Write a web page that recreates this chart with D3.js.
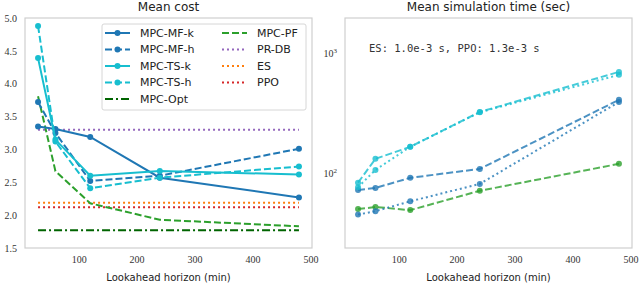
<!DOCTYPE html>
<html>
<head>
<meta charset="utf-8">
<script src="https://cdn.jsdelivr.net/npm/d3@7/dist/d3.min.js"></script>
<style>
  body { margin: 0; background: #fff; }
  .tick text { font-family: "Liberation Serif", serif; font-size: 10px; fill: #333; }
  .title { font-family: "DejaVu Sans", sans-serif; font-size: 12px; fill: #222; }
  .xlabel { font-family: "DejaVu Sans", sans-serif; font-size: 10px; fill: #222; }
  .legend text { font-family: "DejaVu Sans", sans-serif; font-size: 11px; fill: #222; }
</style>
</head>
<body>
<div id="chart"></div>
<script>
// lookahead horizon (min)
const horizons = [30, 60, 120, 240, 480];
const xTicks = [100, 200, 300, 400, 500];

// mean cost
const costMFk = [3.35, 3.31, 3.19, 2.57, 2.27];
const costMFh = [3.72, 3.25, 2.52, 2.60, 3.01];
const costTSk = [4.39, 3.15, 2.60, 2.67, 2.62];
const costTSh = [4.88, 3.12, 2.41, 2.57, 2.74];
const costPF  = [3.81, 2.67, 2.18, 1.93, 1.83];
const costOpt = 1.77;
const costPRDB = 3.30;
const costES = 2.19;
const costPPO = 2.12;
const costTicks = [1.5, 2.0, 2.5, 3.0, 3.5, 4.0, 4.5, 5.0];

// mean simulation time (sec)
const timeMFk = [45, 48, 58, 81, 390];
const timeMFh = [72, 75, 91, 108, 406];
const timeTSk = [76, 106, 165, 320, 656];
const timeTSh = [83, 131, 165, 322, 694];
const timePF  = [50, 52, 49, 71, 119];
const timeTicks = [100, 1000];
const timeNote = "ES: 1.0e-3 s, PPO: 1.3e-3 s";

const BLUE = "#1f77b4", CYAN = "#17becf", GREEN = "#2ca02c",
      DGREEN = "#006400", PURPLE = "#9467bd", ORANGE = "#ff7f0e", RED = "#d62728";
const DASH = "7,3", DOT = "2,3", DASHDOT = "8,3,2,3";

const svg = d3.select("#chart").append("svg")
    .attr("width", 640)
    .attr("height", 284);

// common x scale settings (same domain for both panels)
const xDomain = [7.5, 502.5];
const plotTop = 18, plotBottom = 248;

function panel(x0, x1, title) {
    const g = svg.append("g");
    const x = d3.scaleLinear().domain(xDomain).range([x0, x1]);

    g.append("rect")
        .attr("x", x0).attr("y", plotTop)
        .attr("width", x1 - x0).attr("height", plotBottom - plotTop)
        .attr("fill", "none").attr("stroke", "#cfcfcf").attr("stroke-width", 1.2);

    g.append("g")
        .attr("transform", `translate(0,${plotBottom})`)
        .call(d3.axisBottom(x).tickValues(xTicks).tickSize(0).tickPadding(8))
        .call(a => a.select(".domain").remove());

    g.append("text").attr("class", "title")
        .attr("x", (x0 + x1) / 2).attr("y", 11)
        .attr("text-anchor", "middle").text(title);

    g.append("text").attr("class", "xlabel")
        .attr("x", (x0 + x1) / 2).attr("y", 281)
        .attr("text-anchor", "middle").text("Lookahead horizon (min)");
    return { g, x };
}

function drawSeries(g, x, y, values, color, dash, markers, opacity) {
    const pts = horizons.map((h, i) => [h, values[i]]);
    g.append("path")
        .datum(pts)
        .attr("fill", "none")
        .attr("stroke", color)
        .attr("stroke-width", 2)
        .attr("stroke-dasharray", dash)
        .attr("opacity", opacity)
        .attr("d", d3.line().x(d => x(d[0])).y(d => y(d[1])));
    if (markers) {
        g.append("g").selectAll("circle")
            .data(pts)
            .enter().append("circle")
            .attr("cx", d => x(d[0]))
            .attr("cy", d => y(d[1]))
            .attr("r", 3)
            .attr("fill", color)
            .attr("opacity", opacity);
    }
}

function drawHLine(g, x, y, value, color, dash) {
    g.append("line")
        .attr("x1", x(horizons[0])).attr("x2", x(horizons[horizons.length - 1]))
        .attr("y1", y(value)).attr("y2", y(value))
        .attr("stroke", color).attr("stroke-width", 2)
        .attr("stroke-dasharray", dash);
}

// ---- left panel: mean cost ----
const yCost = d3.scaleLinear().domain([1.5, 5.0]).range([plotBottom, plotTop]);
const left = panel(25, 312, "Mean cost");

left.g.append("g")
    .attr("transform", "translate(25,0)")
    .call(d3.axisLeft(yCost).tickValues(costTicks).tickFormat(d3.format(".1f")).tickSize(0).tickPadding(8))
    .call(a => a.select(".domain").remove());

drawHLine(left.g, left.x, yCost, costPRDB, PURPLE, DOT);
drawHLine(left.g, left.x, yCost, costES, ORANGE, DOT);
drawHLine(left.g, left.x, yCost, costPPO, RED, DOT);
drawHLine(left.g, left.x, yCost, costOpt, DGREEN, DASHDOT);
drawSeries(left.g, left.x, yCost, costPF, GREEN, DASH, false, 1);
drawSeries(left.g, left.x, yCost, costMFk, BLUE, null, true, 1);
drawSeries(left.g, left.x, yCost, costMFh, BLUE, DASH, true, 1);
drawSeries(left.g, left.x, yCost, costTSk, CYAN, null, true, 1);
drawSeries(left.g, left.x, yCost, costTSh, CYAN, DASH, true, 1);

// legend
const legendItems = [
    { name: "MPC-MF-k", color: BLUE, dash: null, marker: true, col: 0 },
    { name: "MPC-MF-h", color: BLUE, dash: DASH, marker: true, col: 0 },
    { name: "MPC-TS-k", color: CYAN, dash: null, marker: true, col: 0 },
    { name: "MPC-TS-h", color: CYAN, dash: DASH, marker: true, col: 0 },
    { name: "MPC-Opt", color: DGREEN, dash: DASHDOT, marker: false, col: 0 },
    { name: "MPC-PF", color: GREEN, dash: DASH, marker: false, col: 1 },
    { name: "PR-DB", color: PURPLE, dash: DOT, marker: false, col: 1 },
    { name: "ES", color: ORANGE, dash: DOT, marker: false, col: 1 },
    { name: "PPO", color: RED, dash: DOT, marker: false, col: 1 }
];
const legend = svg.append("g").attr("class", "legend");
legend.append("rect")
    .attr("x", 102).attr("y", 24).attr("width", 204).attr("height", 86)
    .attr("rx", 2)
    .attr("fill", "#fff").attr("stroke", "#d6d6d6");
const colX = [105, 222];
legendItems.forEach((d, i) => {
    const row = d.col === 0 ? i : i - 5;
    const ly = 33 + row * 16.5;
    const lx = colX[d.col];
    legend.append("line")
        .attr("x1", lx).attr("x2", lx + 25)
        .attr("y1", ly).attr("y2", ly)
        .attr("stroke", d.color).attr("stroke-width", 2)
        .attr("stroke-dasharray", d.dash);
    if (d.marker) {
        legend.append("circle")
            .attr("cx", lx + 12.5).attr("cy", ly).attr("r", 3)
            .attr("fill", d.color);
    }
    legend.append("text")
        .attr("x", lx + 35).attr("y", ly)
        .attr("dy", "0.35em")
        .text(d.name);
});

// ---- right panel: mean simulation time (log) ----
const yTime = d3.scaleLog().domain([23.7, 1950]).range([plotBottom, plotTop]);
const right = panel(345, 632, "Mean simulation time (sec)");

right.g.append("g")
    .attr("transform", "translate(345,0)")
    .call(d3.axisLeft(yTime).tickValues(timeTicks).tickSize(0).tickPadding(8).tickFormat(""))
    .call(a => a.select(".domain").remove())
    .selectAll(".tick text")
    .each(function (d) {
        const t = d3.select(this);
        t.append("tspan").text("10");
        t.append("tspan").attr("dy", "-0.45em").attr("font-size", "7px")
            .text(Math.round(Math.log10(d)));
    });

drawSeries(right.g, right.x, yTime, timePF, GREEN, DASH, true, 0.8);
drawSeries(right.g, right.x, yTime, timeMFk, BLUE, DOT, true, 0.8);
drawSeries(right.g, right.x, yTime, timeMFh, BLUE, DASH, true, 0.8);
drawSeries(right.g, right.x, yTime, timeTSk, CYAN, DOT, true, 0.8);
drawSeries(right.g, right.x, yTime, timeTSh, CYAN, DASH, true, 0.8);

right.g.append("text")
    .attr("x", 369).attr("y", 52)
    .attr("font-family", "DejaVu Sans Mono, monospace")
    .attr("font-size", "10.5px")
    .attr("fill", "#333")
    .attr("xml:space", "preserve")
    .text(timeNote);
</script>
</body>
</html>
